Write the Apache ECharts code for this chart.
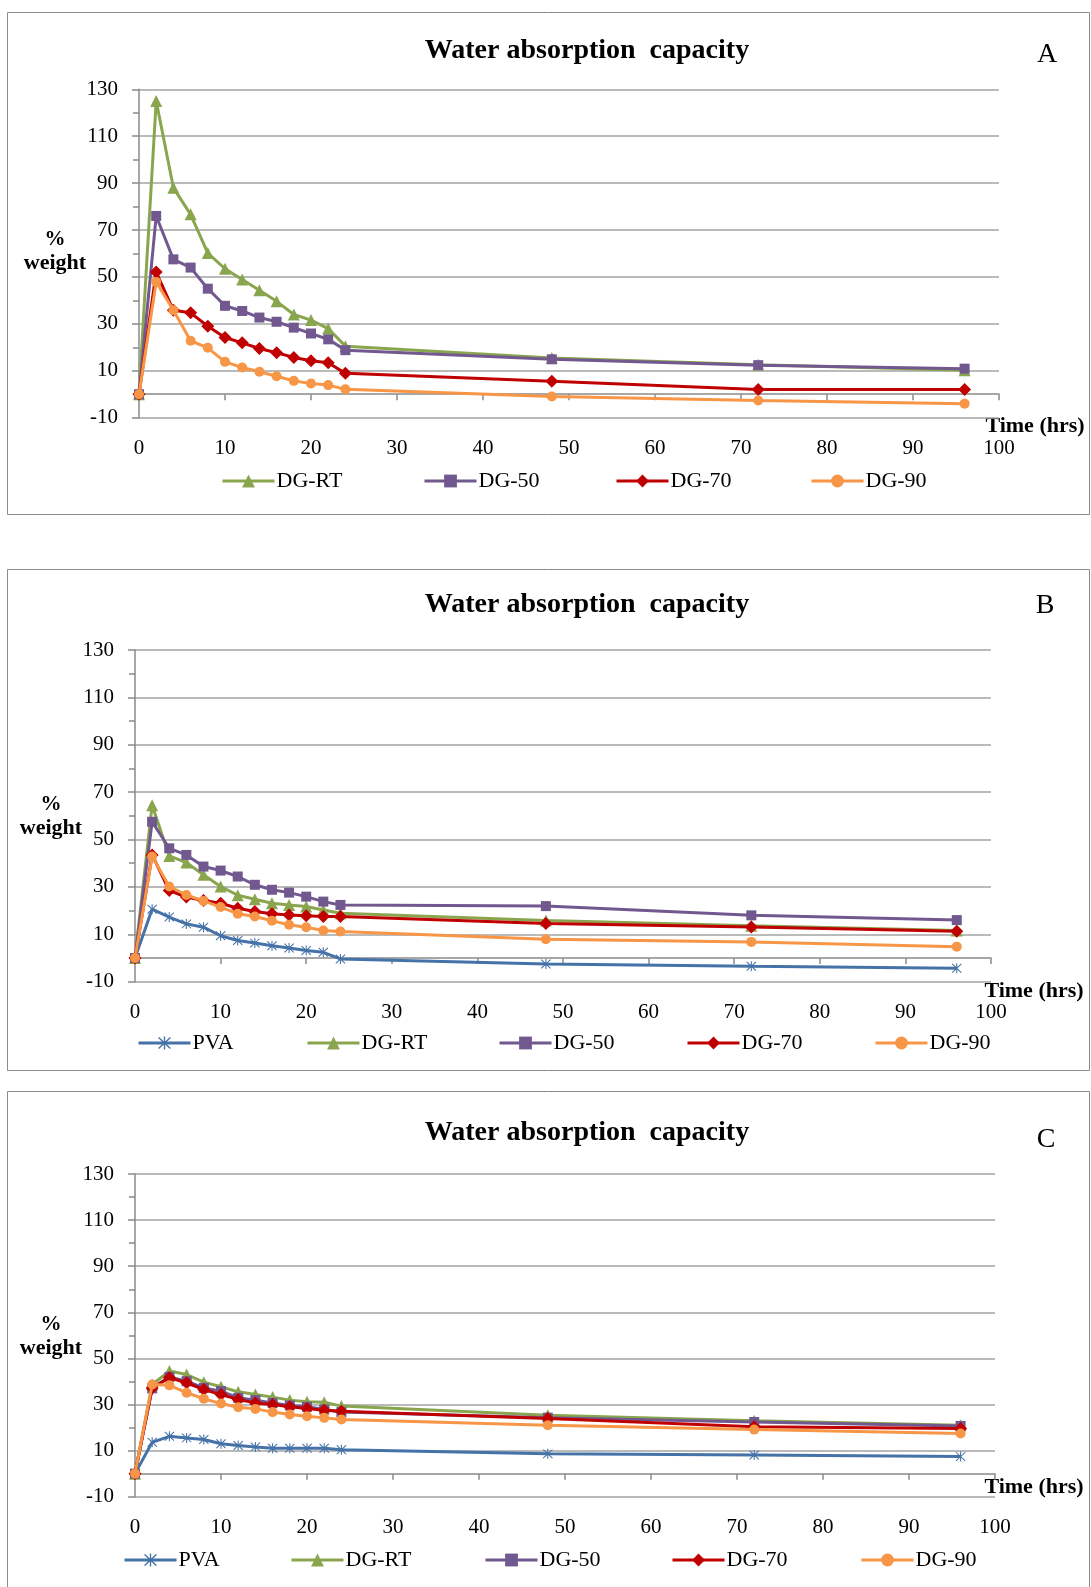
<!DOCTYPE html>
<html><head><meta charset="utf-8">
<script src="https://cdn.jsdelivr.net/npm/echarts@6/dist/echarts.min.js"></script>
<style>html,body{margin:0;padding:0;background:#fff}#c{width:1091px;height:1587px}</style>
</head><body><div id="c"></div>
<script>
// ---- data ----
const hours = [0,2,4,6,8,10,12,14,16,18,20,22,24,48,72,96];

const A_RT = [0,125,88,76.7,60.2,53.5,48.9,44.3,39.6,34,31.6,28,20.5,15.5,12.6,10.2];
const A_50 = [0,76,57.5,54,45,37.7,35.5,32.7,30.9,28.4,25.9,23.4,18.8,14.9,12.4,10.9];
const A_70 = [0,52.1,35.8,34.7,29,24.2,21.9,19.5,17.7,15.7,14.3,13.4,8.9,5.5,2,2];
const A_90 = [0,47.9,35.8,22.8,19.8,13.8,11.4,9.6,7.7,5.7,4.6,3.9,2.1,-1,-2.7,-4];

const B_PVA = [0,20.6,17.3,14.4,13,9.4,7.4,6.3,5.2,4.2,3.2,2.4,-0.4,-2.5,-3.5,-4.3];
const B_RT  = [0,64.5,43.1,40.3,35.1,30.2,26.5,24.8,23.1,22.4,21.7,20.3,18.9,15.8,13.6,11.6];
const B_50  = [0,57.5,46.3,43.5,38.6,36.9,34.4,30.9,28.8,27.6,25.9,23.8,22.4,21.9,18,16];
const B_70  = [0,43.5,28.5,25.7,24.3,23.1,21,19.6,18.7,18.2,17.8,17.5,17.5,14.6,13.1,11.3];
const B_90  = [0,42.8,30.2,26.6,24.1,21.5,18.7,17.5,15.7,14,13,11.6,11.2,7.9,6.8,4.8];

const C_PVA = [0,13.6,16.2,15.5,14.8,13,12.2,11.6,11,11,11,11,10.4,8.6,8.1,7.4];
const C_RT  = [0,38.7,44.5,43,39.7,37.7,35.5,34.3,33.2,31.9,31.2,31,29.3,25.3,22.9,21];
const C_50  = [0,37,42,40.1,37.2,35.8,32.9,31.9,30.7,29.6,29,27.8,26.7,24.3,22.4,20.7];
const C_70  = [0,37.2,41.6,39.4,36.5,34.3,32.2,30.7,30,29,28.3,27.5,27.1,23.9,20.3,19.6];
const C_90  = [0,38.7,38.3,35.1,32.5,30.4,28.8,28.1,26.7,25.7,24.9,24.2,23.5,21,19.1,17.4];

const titleText = 'Water absorption  capacity';
const panelLetters = ['A','B','C'];
const xName = 'Time (hrs)';
const yName = ['%', 'weight'];

// ---- styles ----
const FONT = "'Liberation Serif','Times New Roman',serif";
const STAR = 'path://M9,0 L11,0 L11,20 L9,20 Z M0.6,2 L2,0.6 L19.4,18 L18,19.4 Z M18,0.6 L19.4,2 L2,19.4 L0.6,18 Z';
const styles = {
  'PVA':   {color:'#4572A7', symbol:STAR, size:10},
  'DG-RT': {color:'#89A54E', symbol:'triangle', size:12},
  'DG-50': {color:'#71588F', symbol:'rect', size:10},
  'DG-70': {color:'#C00000', symbol:'diamond', size:13},
  'DG-90': {color:'#F79646', symbol:'circle', size:10}
};

const panels = [
  {grid:{left:139, top:89.3, width:860, height:328.4}, labelMargin:20,
   series:[['DG-RT',A_RT],['DG-50',A_50],['DG-70',A_70],['DG-90',A_90]],
   legendLeft:[221,423,615,810], legendTop:470,
   titleY:51, letterPos:[1047,55], yLabel:[55,240], xNamePos:[1035,426], frame:[7.5,12.5,1082,502]},
  {grid:{left:135, top:650, width:856, height:331.7}, labelMargin:20,
   series:[['PVA',B_PVA],['DG-RT',B_RT],['DG-50',B_50],['DG-70',B_70],['DG-90',B_90]],
   legendLeft:[137,306,498,686,874], legendTop:1032,
   titleY:605, letterPos:[1045,606], yLabel:[51,805], xNamePos:[1034,991], frame:[7.5,569.5,1082,501]},
  {grid:{left:135, top:1174, width:860, height:322.7}, labelMargin:20,
   series:[['PVA',C_PVA],['DG-RT',C_RT],['DG-50',C_50],['DG-70',C_70],['DG-90',C_90]],
   legendLeft:[123,290,484,671,860], legendTop:1549,
   titleY:1133, letterPos:[1046,1140], yLabel:[51,1325], xNamePos:[1034,1487], frame:[7.5,1091.5,1082,520]}
];

const option = {
  backgroundColor:'#fff', animation:false,
  grid:[], xAxis:[], yAxis:[], series:[], legend:[], graphic:[]
};

panels.forEach((p, i) => {
  option.grid.push(Object.assign({containLabel:false}, p.grid));
  option.xAxis.push({
    type:'value', gridIndex:i, min:0, max:100, interval:10,
    axisLine:{show:true, onZero:true, lineStyle:{color:'#8a8a8a', width:1.5}},
    axisTick:{show:true, length:6, lineStyle:{color:'#8a8a8a', width:1.5}},
    axisLabel:{show:true, margin:p.labelMargin, fontFamily:FONT, fontSize:21, color:'#000'},
    splitLine:{show:false}
  });
  option.yAxis.push({
    type:'value', gridIndex:i, min:-10, max:130, interval:20,
    axisLine:{show:true, lineStyle:{color:'#8a8a8a', width:1.5}},
    axisTick:{show:true, length:7, lineStyle:{color:'#8a8a8a', width:1.5}},
    minorTick:{show:true, splitNumber:2, length:6, lineStyle:{color:'#8a8a8a', width:1.5}},
    axisLabel:{margin:21, fontFamily:FONT, fontSize:21, color:'#000'},
    splitLine:{show:true, lineStyle:{color:'#a3a3a3', width:1.5}}
  });
  p.series.forEach(([name, vals], k) => {
    const st = styles[name];
    option.series.push({
      type:'line', name:name, xAxisIndex:i, yAxisIndex:i,
      data: hours.map((h, j) => [h, vals[j]]),
      symbol:st.symbol, symbolSize:st.size, showSymbol:true,
      lineStyle:{color:st.color, width:3},
      itemStyle:{color:st.color, borderColor:st.color, borderWidth:0},
      z: 2 + k
    });
    option.legend.push({
      data:[name], left:p.legendLeft[k], top:p.legendTop,
      itemWidth:52, itemHeight:16, itemGap:0, padding:0,
      lineStyle:{width:3, color:st.color},
      itemStyle:{color:st.color},
      textStyle:{fontFamily:FONT, fontSize:22, color:'#000', padding:[0,0,0,-3]},
      selectedMode:false
    });
  });
  const [fx, fy, fw, fh] = p.frame;
  option.graphic.push(
    {type:'rect', shape:{x:fx, y:fy, width:fw, height:fh}, style:{fill:null, stroke:'#8c8c8c', lineWidth:1}, z:-1, silent:true},
    {type:'text', x:587, y:p.titleY, style:{text:titleText, font:"bold 28px "+FONT, fill:'#000', textAlign:'center', textVerticalAlign:'middle'}},
    {type:'text', x:p.letterPos[0], y:p.letterPos[1], style:{text:panelLetters[i], font:"28px "+FONT, fill:'#000', textAlign:'center', textVerticalAlign:'middle'}},
    {type:'text', x:p.yLabel[0], y:p.yLabel[1], style:{text:yName[0], font:"bold 21px "+FONT, fill:'#000', textAlign:'center', textVerticalAlign:'middle'}},
    {type:'text', x:p.yLabel[0], y:p.yLabel[1]+23, style:{text:yName[1], font:"bold 22px "+FONT, fill:'#000', textAlign:'center', textVerticalAlign:'middle'}},
    {type:'text', x:p.xNamePos[0], y:p.xNamePos[1], style:{text:xName, font:"bold 22px "+FONT, fill:'#000', textAlign:'center', textVerticalAlign:'middle'}}
  );
});

const chart = echarts.init(document.getElementById('c'), null, {renderer:'canvas', width:1091, height:1587});
chart.setOption(option);
</script>
</body></html>
